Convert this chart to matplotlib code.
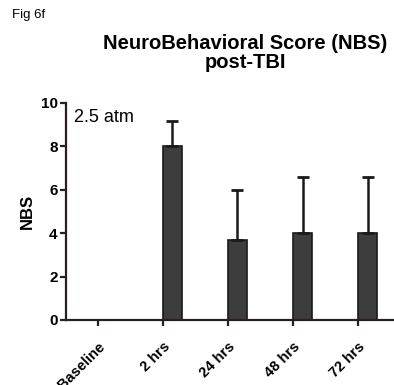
import matplotlib
matplotlib.use("Agg")
import matplotlib.pyplot as plt
import numpy as np

plt.rcParams['font.family'] = ['Liberation Sans', 'DejaVu Sans']

categories = ["Baseline", "2 hrs", "24 hrs", "48 hrs", "72 hrs"]
values = [0, 8.0, 3.67, 4.0, 4.0]
err_up = [0, 1.15, 2.33, 2.6, 2.6]
yticks = [0, 2, 4, 6, 8, 10]

fig = plt.figure(figsize=(3.94, 3.85), dpi=100)
ax = fig.add_axes([0.1675, 0.169, 0.8325, 0.5636])

x = np.arange(len(categories))
ax.bar(x, values, width=0.29, align='edge', color='#3d3d3d', edgecolor='#1a1a1a', linewidth=1.2)
ax.errorbar(x + 0.145, values, yerr=[np.zeros(len(err_up)), err_up], fmt='none',
            ecolor='#1a1a1a', elinewidth=1.8, capsize=4, capthick=2)

ax.set_xlim(-0.49, 4.55)
ax.set_ylim(0, 10)
ax.set_yticks(yticks)
ax.set_yticklabels([str(t) for t in yticks], fontsize=11, fontweight='bold')
ax.set_xticks(x)
ax.set_xticklabels(categories, rotation=45, ha='right', rotation_mode='anchor',
                   fontsize=10.5, fontweight='bold')
for s in ['top', 'right']:
    ax.spines[s].set_visible(False)
for s in ['left', 'bottom']:
    ax.spines[s].set_linewidth(1.6)
    ax.spines[s].set_color('#2a1e1e')
ax.tick_params(axis='both', direction='out', length=4, width=1.6, color='#2a1e1e')
ax.tick_params(axis='y', pad=2)
ax.tick_params(axis='x', pad=10)

ax.set_ylabel("NBS", fontsize=12, fontweight='bold', labelpad=4)
ax.text(0.025, 0.97, "2.5 atm", transform=ax.transAxes, fontsize=13, va='top', ha='left')

fig.text(0.622, 0.862, "NeuroBehavioral Score (NBS)\npost-TBI", ha='center', va='center',
         fontsize=14.5, fontweight='bold', linespacing=1.0)
fig.text(0.03, 0.96, "Fig 6f", fontsize=9.5, ha='left', va='center')

fig.savefig("out.png", dpi=100)
